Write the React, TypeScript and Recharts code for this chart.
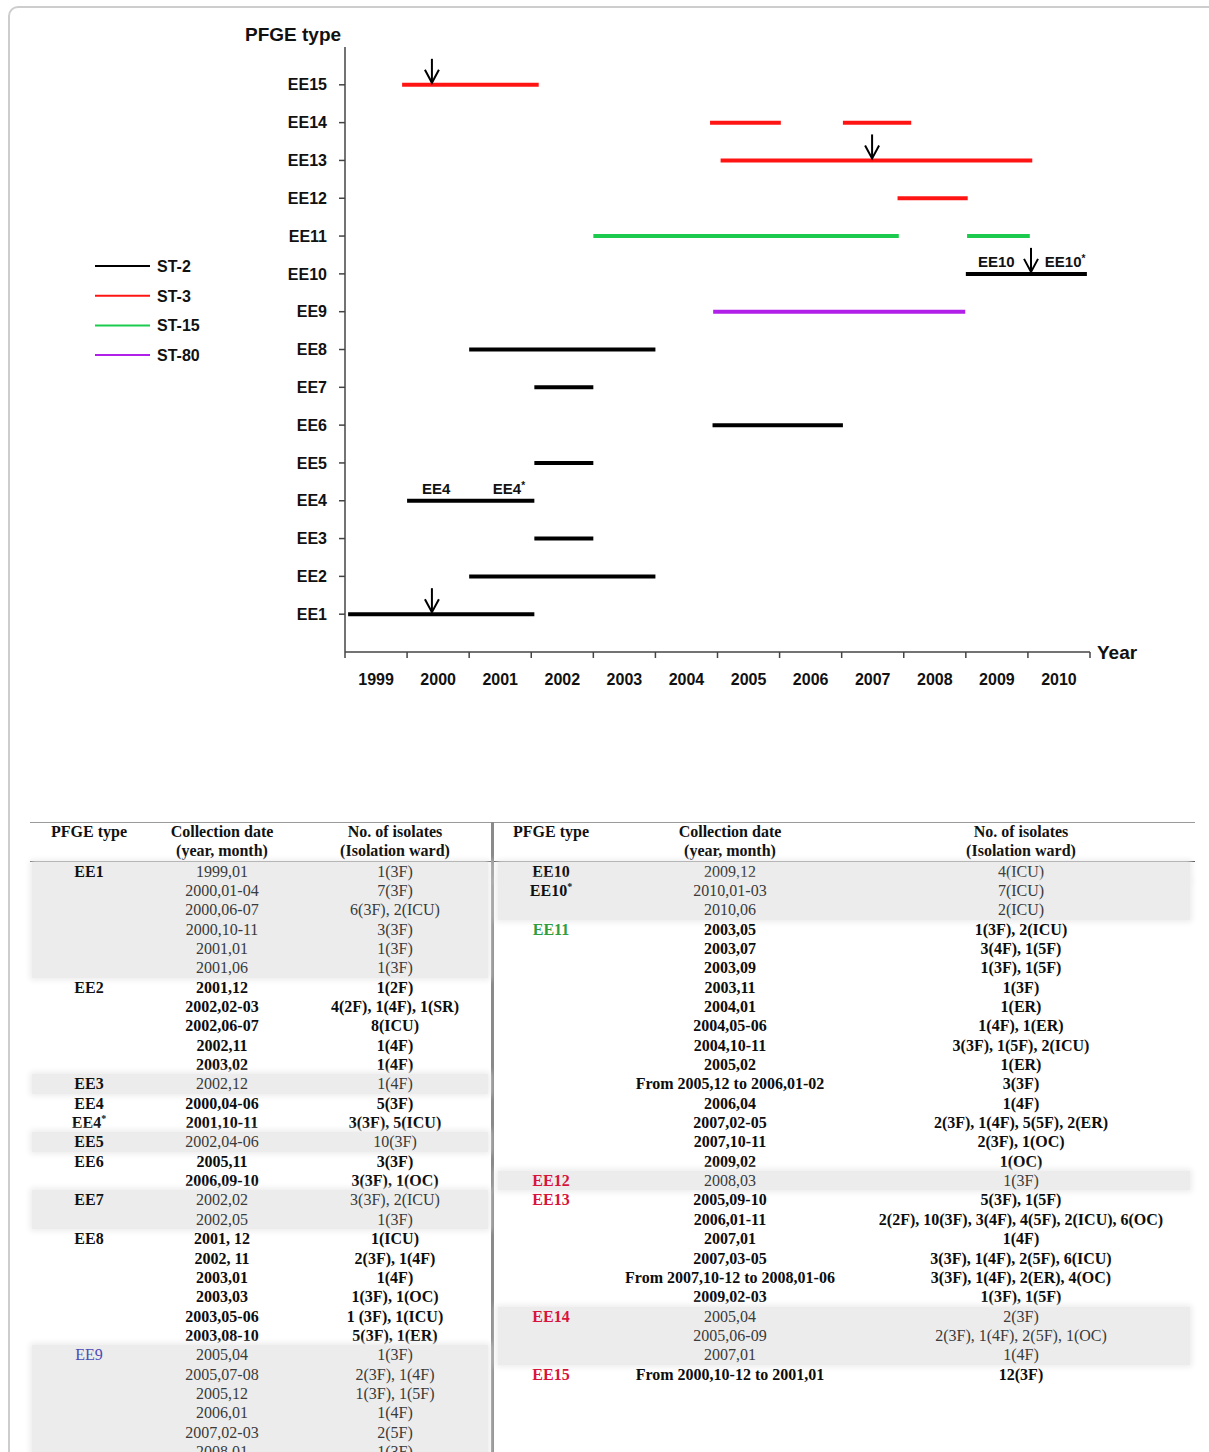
import React from 'react'
import { ComposedChart, Line, Scatter, XAxis, YAxis } from 'recharts'

// PFGE types on the vertical axis, bottom (EE1) to top (EE15)
const pfgeTypes = ['EE1', 'EE2', 'EE3', 'EE4', 'EE5', 'EE6', 'EE7', 'EE8', 'EE9', 'EE10', 'EE11', 'EE12', 'EE13', 'EE14', 'EE15']
const yearTicks = [1999, 2000, 2001, 2002, 2003, 2004, 2005, 2006, 2007, 2008, 2009, 2010, 2011]

// [row, from, to] in decimal years
type Span = [number, number, number]
const st2Spans: Span[] = [
    [1, 1999.05, 2002.05],
    [2, 2001.0, 2004.0],
    [3, 2002.05, 2003.0],
    [4, 2000.0, 2002.05],
    [5, 2002.05, 2003.0],
    [6, 2004.92, 2007.02],
    [7, 2002.05, 2003.0],
    [8, 2001.0, 2004.0],
    [10, 2009.0, 2010.95],
]
const st3Spans: Span[] = [
    [12, 2007.9, 2009.03],
    [13, 2005.05, 2010.07],
    [14, 2004.88, 2006.02],
    [14, 2007.02, 2008.12],
    [15, 1999.92, 2002.12],
]
const st15Spans: Span[] = [
    [11, 2003.0, 2007.92],
    [11, 2009.02, 2010.03],
]
const st80Spans: Span[] = [
    [9, 2004.93, 2008.99],
]

const lineageNames = ['ST-2', 'ST-3', 'ST-15', 'ST-80']
const lineageColors = ['#000000', '#ff1414', '#1ccb4e', '#b020e8']
const lineageSpans = [st2Spans, st3Spans, st15Spans, st80Spans]

// downward arrows marking the first isolate of each outbreak
const arrowMarks = [
    { x: 2000.4, y: 15 },
    { x: 2007.49, y: 13 },
    { x: 2010.05, y: 10 },
    { x: 2000.4, y: 1 },
]
// sub-type labels sitting on top of the EE4 and EE10 bars
const spanLabels = [
    { x: 2000.47, y: 4, text: 'EE4', star: false },
    { x: 2001.64, y: 4, text: 'EE4', star: true },
    { x: 2009.49, y: 10, text: 'EE10', star: false },
    { x: 2010.6, y: 10, text: 'EE10', star: true },
]

// isolate table, left half
const leftGroups = [
    { type: 'EE1', bold: false, dates: ['1999,01', '2000,01-04', '2000,06-07', '2000,10-11', '2001,01', '2001,06'], counts: ['1(3F)', '7(3F)', '6(3F), 2(ICU)', '3(3F)', '1(3F)', '1(3F)'] },
    { type: 'EE2', bold: true, dates: ['2001,12', '2002,02-03', '2002,06-07', '2002,11', '2003,02'], counts: ['1(2F)', '4(2F), 1(4F), 1(SR)', '8(ICU)', '1(4F)', '1(4F)'] },
    { type: 'EE3', bold: false, dates: ['2002,12'], counts: ['1(4F)'] },
    { type: 'EE4', bold: true, dates: ['2000,04-06'], counts: ['5(3F)'] },
    { type: 'EE4*', bold: true, dates: ['2001,10-11'], counts: ['3(3F), 5(ICU)'] },
    { type: 'EE5', bold: false, dates: ['2002,04-06'], counts: ['10(3F)'] },
    { type: 'EE6', bold: true, dates: ['2005,11', '2006,09-10'], counts: ['3(3F)', '3(3F), 1(OC)'] },
    { type: 'EE7', bold: false, dates: ['2002,02', '2002,05'], counts: ['3(3F), 2(ICU)', '1(3F)'] },
    { type: 'EE8', bold: true, dates: ['2001, 12', '2002, 11', '2003,01', '2003,03', '2003,05-06', '2003,08-10'], counts: ['1(ICU)', '2(3F), 1(4F)', '1(4F)', '1(3F), 1(OC)', '1 (3F), 1(ICU)', '5(3F), 1(ER)'] },
    { type: 'EE9', bold: false, color: '#4a4ab6', dates: ['2005,04', '2005,07-08', '2005,12', '2006,01', '2007,02-03', '2008,01'], counts: ['1(3F)', '2(3F), 1(4F)', '1(3F), 1(5F)', '1(4F)', '2(5F)', '1(3F)'] },
]

// isolate table, right half
const rightGroups = [
    { type: 'EE10', bold: false, dates: ['2009,12'], counts: ['4(ICU)'] },
    { type: 'EE10*', bold: false, dates: ['2010,01-03', '2010,06'], counts: ['7(ICU)', '2(ICU)'] },
    { type: 'EE11', bold: true, color: '#2f9e3e', dates: ['2003,05', '2003,07', '2003,09', '2003,11', '2004,01', '2004,05-06', '2004,10-11', '2005,02', 'From 2005,12 to 2006,01-02', '2006,04', '2007,02-05', '2007,10-11', '2009,02'], counts: ['1(3F), 2(ICU)', '3(4F), 1(5F)', '1(3F), 1(5F)', '1(3F)', '1(ER)', '1(4F), 1(ER)', '3(3F), 1(5F), 2(ICU)', '1(ER)', '3(3F)', '1(4F)', '2(3F), 1(4F), 5(5F), 2(ER)', '2(3F), 1(OC)', '1(OC)'] },
    { type: 'EE12', bold: false, color: '#d8133c', dates: ['2008,03'], counts: ['1(3F)'] },
    { type: 'EE13', bold: true, color: '#d8133c', dates: ['2005,09-10', '2006,01-11', '2007,01', '2007,03-05', 'From 2007,10-12 to 2008,01-06', '2009,02-03'], counts: ['5(3F), 1(5F)', '2(2F), 10(3F), 3(4F), 4(5F), 2(ICU), 6(OC)', '1(4F)', '3(3F), 1(4F), 2(5F), 6(ICU)', '3(3F), 1(4F), 2(ER), 4(OC)', '1(3F), 1(5F)'] },
    { type: 'EE14', bold: false, color: '#d8133c', dates: ['2005,04', '2005,06-09', '2007,01'], counts: ['2(3F)', '2(3F), 1(4F), 2(5F), 1(OC)', '1(4F)'] },
    { type: 'EE15', bold: true, color: '#d8133c', dates: ['From 2000,10-12 to 2001,01'], counts: ['12(3F)'] },
]

const SANS = '"Liberation Sans", Arial, sans-serif'
const SERIF = '"Liberation Serif", "Times New Roman", serif'

const PLOT_LEFT = 345
const PLOT_RIGHT = 1090
const YEAR_PX = (PLOT_RIGHT - PLOT_LEFT) / (2011 - 1999)

const ROW_H = 19.35
const BODY_TOP = 861.5

function YearTick(props: any) {
    const { x, y, payload } = props
    if (payload.value >= 2011) return <g />
    return (
        <text x={x + YEAR_PX / 2} y={y + 25} textAnchor="middle" fontFamily={SANS} fontSize={16} fontWeight={700} fill="#111">
            {payload.value}
        </text>
    )
}

function ArrowMark(props: any) {
    const { cx, cy } = props
    return (
        <g stroke="#000" strokeWidth={2} fill="none">
            <line x1={cx} y1={cy - 26} x2={cx} y2={cy - 2} />
            <polyline points={`${cx - 7},${cy - 15} ${cx},${cy - 2} ${cx + 7},${cy - 15}`} />
        </g>
    )
}

function SpanLabel(props: any) {
    const { cx, cy, payload } = props
    return (
        <text x={cx} y={cy - 7} textAnchor="middle" fontFamily={SANS} fontSize={15} fontWeight={700} fill="#111">
            <tspan>{payload.text}</tspan>
            {payload.star && <tspan fontSize={10} dy={-5}>*</tspan>}
        </text>
    )
}

function TypeText({ type }: { type: string }) {
    if (type.endsWith('*')) {
        return <>{type.slice(0, -1)}<sup style={{ fontSize: 10, lineHeight: 0 }}>*</sup></>
    }
    return <>{type}</>
}

interface HalfProps {
    groups: typeof leftGroups
    left: number
    right: number
    centers: [number, number, number]
    widths: [number, number, number]
}

function TableHalf({ groups, left, right, centers, widths }: HalfProps) {
    const cells: React.ReactNode[] = []
    let row = 0
    groups.forEach((g: any) => {
        const top = BODY_TOP + row * ROW_H
        if (!g.bold) {
            cells.push(
                <div key={g.type + '-bg'} style={{ position: 'absolute', left, width: right - left, top, height: g.dates.length * ROW_H, background: '#ececec', boxShadow: '0 0 6px 2px #ececec' }} />
            )
        }
        g.dates.forEach((d: string, i: number) => {
            const rowTop = BODY_TOP + (row + i) * ROW_H
            const textColor = g.bold ? '#0d0d0d' : '#3a3a3a'
            const texts = [i === 0 ? g.type : '', d, g.counts[i]]
            texts.forEach((t, c) => {
                if (!t) return
                const isType = c === 0
                cells.push(
                    <div
                        key={`${g.type}-${i}-${c}`}
                        style={{
                            position: 'absolute',
                            left: centers[c] - widths[c] / 2,
                            width: widths[c],
                            top: rowTop,
                            height: ROW_H,
                            lineHeight: `${ROW_H}px`,
                            textAlign: 'center',
                            whiteSpace: 'nowrap',
                            fontWeight: isType ? (g.color === '#4a4ab6' ? 400 : 700) : g.bold ? 700 : 400,
                            color: isType ? g.color || '#111' : textColor,
                        }}
                    >
                        {isType ? <TypeText type={t} /> : t}
                    </div>
                )
            })
        })
        row += g.dates.length
    })
    return <>{cells}</>
}

function HeaderCell({ x, y, text }: { x: number; y: number; text: string }) {
    return (
        <div style={{ position: 'absolute', left: x - 120, width: 240, top: y - ROW_H / 2, height: ROW_H, lineHeight: `${ROW_H}px`, textAlign: 'center', fontWeight: 700, color: '#111', whiteSpace: 'nowrap' }}>
            {text}
        </div>
    )
}

export default function App() {
    const lineItems = lineageSpans.flatMap((spans, li) =>
        spans.map((s, si) => ({ key: `${li}-${si}`, color: lineageColors[li], data: [{ x: s[1], y: s[0] }, { x: s[2], y: s[0] }] }))
    )

    return (
        <div style={{ position: 'absolute', left: 0, top: 0, width: 1209, height: 1452, overflow: 'hidden', background: '#fff' }}>
            <style>{'body{margin:0}'}</style>
            <div style={{ position: 'absolute', left: 8, top: 6, width: 1230, height: 1480, border: '2px solid #cdcdcd', borderRadius: 10, boxSizing: 'border-box' }} />

            <div style={{ position: 'absolute', left: 0, top: 0 }}>
                <ComposedChart width={1120} height={700} margin={{ top: 47, right: 30, left: 285, bottom: 8 }} style={{ fontFamily: SANS }}>
                    <XAxis
                        type="number"
                        dataKey="x"
                        domain={[1999, 2011]}
                        ticks={yearTicks}
                        interval={0}
                        allowDataOverflow
                        height={40}
                        tickSize={6}
                        axisLine={{ stroke: '#444', strokeWidth: 1.5 }}
                        tickLine={{ stroke: '#444', strokeWidth: 1.5 }}
                        tick={YearTick}
                    />
                    <YAxis
                        type="number"
                        dataKey="y"
                        domain={[0, 16]}
                        ticks={[1, 2, 3, 4, 5, 6, 7, 8, 9, 10, 11, 12, 13, 14, 15]}
                        interval={0}
                        width={60}
                        tickSize={6}
                        tickMargin={12}
                        tickFormatter={(v: number) => pfgeTypes[v - 1]}
                        tick={{ fill: '#111', fontSize: 16, fontWeight: 700, fontFamily: SANS }}
                        axisLine={{ stroke: '#444', strokeWidth: 1.5 }}
                        tickLine={{ stroke: '#444', strokeWidth: 1.5 }}
                    />
                    {lineItems.map((l) => (
                        <Line
                            key={l.key}
                            data={l.data}
                            dataKey="y"
                            stroke={l.color}
                            strokeWidth={4}
                            dot={false}
                            activeDot={false}
                            isAnimationActive={false}
                        />
                    ))}
                    <Scatter data={arrowMarks} shape={ArrowMark} isAnimationActive={false} />
                    <Scatter data={spanLabels} shape={SpanLabel} isAnimationActive={false} />
                </ComposedChart>
            </div>

            <svg style={{ position: 'absolute', left: 0, top: 0 }} width={1209} height={720} fontFamily={SANS}>
                <text x={245} y={41} fontSize={19} fontWeight={700} fill="#111">PFGE type</text>
                <text x={1097} y={659} fontSize={19} fontWeight={700} fill="#111">Year</text>
                {lineageNames.map((name, i) => {
                    const y = 266 + i * 29.7
                    return (
                        <g key={name}>
                            <line x1={95} x2={150} y1={y} y2={y} stroke={lineageColors[i]} strokeWidth={2} />
                            <text x={157} y={y + 6} fontSize={16} fontWeight={700} fill="#111">{name}</text>
                        </g>
                    )
                })}
            </svg>

            <div style={{ position: 'absolute', left: 0, top: 0, width: 1209, height: 1452, fontFamily: SERIF, fontSize: 16 }}>
                <div style={{ position: 'absolute', left: 30, width: 1165, top: 822, height: 1, background: '#9a9a9a' }} />
                <div style={{ position: 'absolute', left: 30, width: 1165, top: 861, height: 1, background: '#444' }} />
                <div style={{ position: 'absolute', left: 491, width: 3, top: 822, height: 640, background: '#8a8a8a' }} />

                <HeaderCell x={89} y={832} text="PFGE type" />
                <HeaderCell x={222} y={832} text="Collection date" />
                <HeaderCell x={222} y={851} text="(year, month)" />
                <HeaderCell x={395} y={832} text="No. of isolates" />
                <HeaderCell x={395} y={851} text="(Isolation ward)" />
                <HeaderCell x={551} y={832} text="PFGE type" />
                <HeaderCell x={730} y={832} text="Collection date" />
                <HeaderCell x={730} y={851} text="(year, month)" />
                <HeaderCell x={1021} y={832} text="No. of isolates" />
                <HeaderCell x={1021} y={851} text="(Isolation ward)" />

                <TableHalf groups={leftGroups} left={32} right={488} centers={[89, 222, 395]} widths={[110, 150, 190]} />
                <TableHalf groups={rightGroups as any} left={498} right={1190} centers={[551, 730, 1021]} widths={[110, 240, 340]} />
            </div>
        </div>
    )
}
